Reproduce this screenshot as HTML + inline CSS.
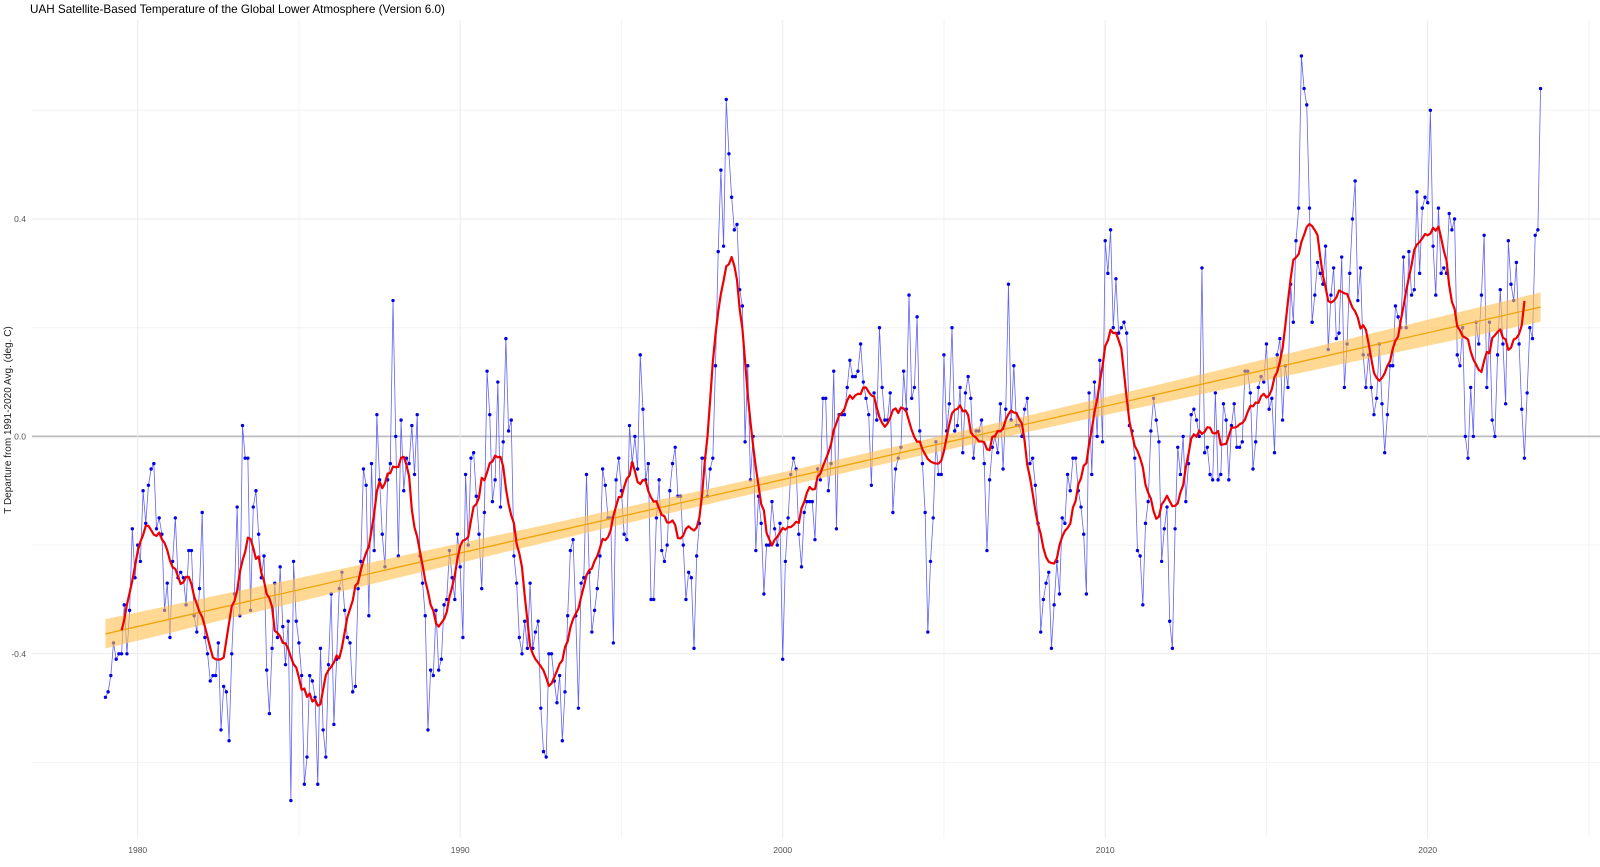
<!DOCTYPE html>
<html><head><meta charset="utf-8">
<style>
html,body{margin:0;padding:0;background:#fff;}
body{width:1600px;height:862px;overflow:hidden;font-family:"Liberation Sans",sans-serif;}
</style></head>
<body>
<svg id="chart" width="1600" height="862" xmlns="http://www.w3.org/2000/svg">
<text x="30" y="13" font-size="11.7" fill="#000" font-family="Liberation Sans, sans-serif">UAH Satellite-Based Temperature of the Global Lower Atmosphere (Version 6.0)</text>
<text transform="translate(11,420) rotate(-90)" text-anchor="middle" font-size="10" fill="#222" font-family="Liberation Sans, sans-serif">T Departure from 1991-2020 Avg. (deg. C)</text>
<g id="grid"></g>
<g id="axes"></g>
<g id="marks"></g>
</svg>
<script>
const startYear = 1979;
const y1979 = [-0.48,-0.47,-0.44,-0.38,-0.41,-0.40,-0.40,-0.31,-0.40,-0.32,-0.17,-0.26];
const y1980 = [-0.20,-0.23,-0.10,-0.16,-0.09,-0.06,-0.05,-0.17,-0.15,-0.18,-0.32,-0.27];
const y1981 = [-0.37,-0.23,-0.15,-0.26,-0.25,-0.26,-0.31,-0.21,-0.21,-0.33,-0.36,-0.28];
const y1982 = [-0.14,-0.37,-0.40,-0.45,-0.44,-0.44,-0.38,-0.54,-0.46,-0.47,-0.56,-0.40];
const y1983 = [-0.29,-0.13,-0.33,0.02,-0.04,-0.04,-0.32,-0.13,-0.10,-0.18,-0.26,-0.22];
const y1984 = [-0.43,-0.51,-0.39,-0.27,-0.37,-0.24,-0.35,-0.42,-0.34,-0.67,-0.23,-0.34];
const y1985 = [-0.38,-0.44,-0.64,-0.59,-0.44,-0.45,-0.48,-0.64,-0.39,-0.54,-0.59,-0.42];
const y1986 = [-0.29,-0.53,-0.41,-0.28,-0.25,-0.32,-0.37,-0.38,-0.47,-0.46,-0.28,-0.23];
const y1987 = [-0.06,-0.09,-0.33,-0.05,-0.21,0.04,-0.08,-0.18,-0.24,-0.08,-0.05,0.25];
const y1988 = [0.00,-0.22,0.03,-0.10,-0.04,-0.05,0.02,-0.07,0.04,-0.22,-0.27,-0.33];
const y1989 = [-0.54,-0.43,-0.44,-0.32,-0.43,-0.41,-0.31,-0.30,-0.21,-0.26,-0.30,-0.18];
const y1990 = [-0.24,-0.37,-0.07,-0.20,-0.04,-0.03,-0.11,-0.18,-0.28,-0.14,0.12,0.04];
const y1991 = [-0.12,-0.08,0.10,-0.13,-0.01,0.18,0.01,0.03,-0.22,-0.27,-0.37,-0.40];
const y1992 = [-0.34,-0.39,-0.27,-0.39,-0.36,-0.34,-0.50,-0.58,-0.59,-0.40,-0.40,-0.45];
const y1993 = [-0.49,-0.44,-0.56,-0.47,-0.33,-0.21,-0.19,-0.33,-0.50,-0.27,-0.26,-0.07];
const y1994 = [-0.25,-0.36,-0.32,-0.28,-0.22,-0.06,-0.09,-0.15,-0.15,-0.38,-0.08,-0.04];
const y1995 = [-0.10,-0.18,-0.19,0.02,-0.05,0.00,-0.06,0.15,0.05,-0.08,-0.05,-0.30];
const y1996 = [-0.30,-0.15,-0.08,-0.21,-0.23,-0.20,-0.10,-0.05,-0.02,-0.11,-0.11,-0.20];
const y1997 = [-0.30,-0.25,-0.26,-0.39,-0.22,-0.16,-0.04,-0.04,-0.11,-0.06,-0.04,0.13];
const y1998 = [0.34,0.49,0.35,0.62,0.52,0.44,0.38,0.39,0.27,0.24,-0.01,0.13];
const y1999 = [-0.08,0.00,-0.21,-0.11,-0.16,-0.29,-0.20,-0.20,-0.12,-0.17,-0.20,-0.16];
const y2000 = [-0.41,-0.23,-0.15,-0.07,-0.04,-0.06,-0.18,-0.24,-0.14,-0.12,-0.12,-0.12];
const y2001 = [-0.19,-0.06,-0.08,0.07,0.07,-0.10,-0.05,0.12,-0.17,0.04,0.04,0.04];
const y2002 = [0.09,0.14,0.11,0.11,0.12,0.17,0.10,0.07,0.04,-0.09,0.08,0.03];
const y2003 = [0.20,0.09,0.03,0.03,0.08,-0.14,-0.06,-0.04,-0.02,0.12,0.05,0.26];
const y2004 = [0.07,0.09,0.22,0.01,-0.05,-0.14,-0.36,-0.23,-0.15,-0.01,-0.07,-0.07];
const y2005 = [0.15,0.01,0.06,0.20,0.01,0.02,0.09,-0.03,0.08,0.11,0.07,-0.04];
const y2006 = [0.01,0.01,0.03,-0.05,-0.21,-0.08,-0.02,0.00,-0.03,0.06,-0.06,0.05];
const y2007 = [0.28,0.03,0.13,0.02,0.02,0.00,0.05,0.07,-0.05,-0.04,-0.09,-0.16];
const y2008 = [-0.36,-0.30,-0.27,-0.25,-0.39,-0.31,-0.23,-0.29,-0.15,-0.16,-0.07,-0.10];
const y2009 = [-0.04,-0.04,-0.10,-0.13,-0.18,-0.29,0.08,-0.07,0.10,0.00,0.14,-0.01];
const y2010 = [0.36,0.30,0.38,0.20,0.29,0.19,0.20,0.21,0.19,0.02,0.01,-0.04];
const y2011 = [-0.21,-0.22,-0.31,-0.16,-0.12,0.01,0.07,0.03,-0.01,-0.23,-0.17,-0.13];
const y2012 = [-0.34,-0.39,-0.17,-0.02,-0.07,0.00,-0.12,-0.05,0.04,0.05,0.03,0.00];
const y2013 = [0.31,-0.03,-0.02,-0.07,-0.08,0.08,-0.08,-0.07,0.06,0.03,-0.08,0.02];
const y2014 = [0.06,-0.02,-0.02,-0.01,0.12,0.12,0.08,-0.06,-0.01,0.09,0.11,0.10];
const y2015 = [0.17,0.05,0.07,-0.03,0.15,0.18,0.03,0.13,0.09,0.28,0.21,0.36];
const y2016 = [0.42,0.70,0.64,0.61,0.42,0.21,0.26,0.32,0.30,0.28,0.35,0.16];
const y2017 = [0.26,0.31,0.18,0.19,0.33,0.09,0.17,0.30,0.40,0.47,0.25,0.31];
const y2018 = [0.15,0.09,0.15,0.09,0.04,0.07,0.17,0.06,-0.03,0.04,0.13,0.13];
const y2019 = [0.24,0.22,0.20,0.33,0.20,0.34,0.26,0.27,0.45,0.30,0.42,0.44];
const y2020 = [0.43,0.60,0.35,0.26,0.42,0.30,0.31,0.30,0.41,0.38,0.40,0.15];
const y2021 = [0.13,0.20,0.00,-0.04,0.09,0.00,0.21,0.17,0.26,0.37,0.09,0.21];
const y2022 = [0.03,0.00,0.15,0.27,0.17,0.06,0.36,0.28,0.25,0.32,0.17,0.05];
const y2023 = [-0.04,0.08,0.20,0.18,0.37,0.38,0.64];
const xTicks = [1980,1990,2000,2010,2020];
const xMinor = [1985,1995,2005,2015,2025];
const yTicks = [-0.4,0.0,0.4];
const yMinor = [-0.6,-0.2,0.2,0.6];
const yTickLabels = ["-0.4","0.0","0.4"];

const values = [].concat(y1979,y1980,y1981,y1982,y1983,y1984,y1985,y1986,y1987,y1988,y1989,y1990,y1991,y1992,y1993,y1994,y1995,y1996,y1997,y1998,y1999,y2000,y2001,y2002,y2003,y2004,y2005,y2006,y2007,y2008,y2009,y2010,y2011,y2012,y2013,y2014,y2015,y2016,y2017,y2018,y2019,y2020,y2021,y2022,y2023);
const times = values.map((v,i)=>startYear + i/12);

const NS = "http://www.w3.org/2000/svg";
function xs(t){ return 137.7 + (t-1980)*32.25; }
function ys(v){ return 436.4 - v*543.5; }
const PL = 32, PR = 1600, PT = 20, PB = 838;
function mk(tag, attrs, parent){ const e=document.createElementNS(NS,tag); for(const k in attrs) e.setAttribute(k,attrs[k]); parent.appendChild(e); return e; }

const grid = document.getElementById('grid');
const axes = document.getElementById('axes');
const marks = document.getElementById('marks');

yMinor.forEach(v=>{ const l=mk('line',{x1:PL,x2:PR,y1:ys(v),y2:ys(v),stroke:'#f3f3f3','stroke-width':1},grid);
 
  });
xMinor.forEach(t=>{ const l=mk('line',{x1:xs(t),x2:xs(t),y1:PT,y2:PB,stroke:'#f3f3f3','stroke-width':1},grid);
 
  });
yTicks.forEach((v,i)=>{ const l=mk('line',{x1:PL,x2:PR,y1:ys(v),y2:ys(v),stroke: v===0?'#bdbdbd':'#ebebeb','stroke-width': v===0?1.8:1},grid);
 
 
 const tx=mk('text',{x:26,y:ys(v)+3,'text-anchor':'end','font-size':8.5,fill:'#555'},axes);
 tx.textContent=yTickLabels[i];
 
  });
xTicks.forEach(t=>{ const l=mk('line',{x1:xs(t),x2:xs(t),y1:PT,y2:PB,stroke:'#ebebeb','stroke-width':1},grid);
 
 
 const tx=mk('text',{x:xs(t),y:853,'text-anchor':'middle','font-size':8.5,fill:'#555'},axes);
 tx.textContent=String(t);
 
  });

const line = mk('polyline',{points: values.map((v,i)=>xs(times[i]).toFixed(2)+','+ys(v).toFixed(2)).join(' '),fill:'none',stroke:'#4848f0','stroke-width':0.8,'stroke-opacity':0.85},marks);


values.forEach((v,i)=>{ const c=mk('circle',{cx:xs(times[i]).toFixed(2),cy:ys(v).toFixed(2),r:1.7,fill:'#0000e6'},marks);
 
  });

const n=values.length;
const mt=times.reduce((a,b)=>a+b,0)/n, mv=values.reduce((a,b)=>a+b,0)/n;
let sxx=0,sxy=0; for(let i=0;i<n;i++){sxx+=(times[i]-mt)**2; sxy+=(times[i]-mt)*(values[i]-mv);}
const slope=sxy/sxx, icpt=mv-slope*mt;
let sse=0; for(let i=0;i<n;i++){sse+=(values[i]-(icpt+slope*times[i]))**2;}
const s=Math.sqrt(sse/(n-2));
const t0=times[0], t1=times[n-1];
const upper=[], lower=[];
for(let k=0;k<=80;k++){ const t=t0+(t1-t0)*k/80; const f=icpt+slope*t; const se=1.75*s*Math.sqrt(1/n+(t-mt)**2/sxx);
 upper.push(xs(t).toFixed(2)+','+ys(f+se).toFixed(2)); lower.unshift(xs(t).toFixed(2)+','+ys(f-se).toFixed(2)); }
const rib=mk('polygon',{points:upper.concat(lower).join(' '),fill:'#ffc04d','fill-opacity':0.6},marks);


const tl=mk('line',{x1:xs(t0),y1:ys(icpt+slope*t0),x2:xs(t1),y2:ys(icpt+slope*t1),stroke:'#f0a30a','stroke-width':1.3},marks);



const ma=[];
for(let i=6;i<n-6;i++){ let sum=0; for(let j=i-6;j<=i+6;j++) sum+=values[j]; ma.push(xs(times[i]).toFixed(2)+','+ys(sum/13).toFixed(2)); }
const red=mk('polyline',{points:ma.join(' '),fill:'none',stroke:'#ee0000','stroke-width':2.2,'stroke-linejoin':'round'},marks);


</script>
</body></html>
